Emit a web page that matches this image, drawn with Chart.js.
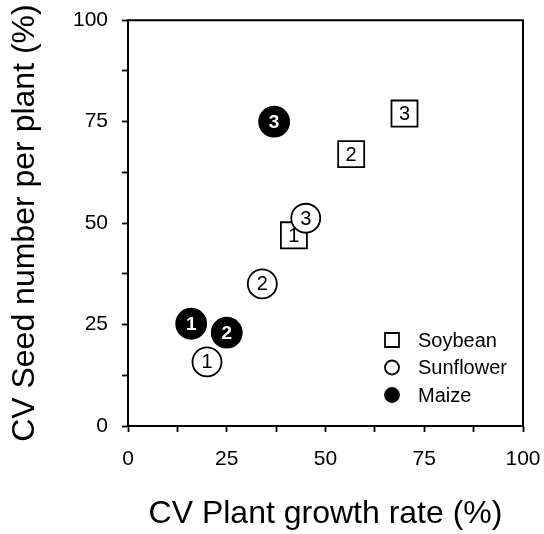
<!DOCTYPE html>
<html>
<head>
<meta charset="utf-8">
<script src="https://cdn.jsdelivr.net/npm/chart.js@4/dist/chart.umd.min.js"></script>
<style>
  html, body { margin: 0; padding: 0; background: #fff; }
  #wrap { width: 544px; height: 534px; }
</style>
</head>
<body>
<div id="wrap"><canvas id="myChart" width="544" height="534"></canvas></div>
<script>
// Values (CV in %)
const soybeanX = [42, 56.5, 70];
const soybeanY = [47, 67, 77];
const sunflowerX = [20, 34, 45];
const sunflowerY = [15.8, 35, 51.2];
const maizeX = [16, 25, 37];
const maizeY = [25.2, 23, 75];
const pointNumbers = ['1', '2', '3'];

const seriesNames = ['Soybean', 'Sunflower', 'Maize'];
const axisLabels = [0, 25, 50, 75, 100];

const FONT = "'Liberation Sans', Arial, sans-serif";

function toPoints(xs, ys) {
  return xs.map((x, i) => ({ x: x, y: ys[i] }));
}

// Top and right edges of the box
const frameBox = {
  id: 'frameBox',
  beforeDatasetsDraw(chart) {
    const { ctx, chartArea: a } = chart;
    ctx.save();
    ctx.strokeStyle = '#000';
    ctx.lineWidth = 2;
    ctx.beginPath();
    ctx.moveTo(a.left, a.top);
    ctx.lineTo(a.right, a.top);
    ctx.lineTo(a.right, a.bottom);
    ctx.stroke();
    ctx.restore();
  }
};

// Numbers written inside each marker, kept in dataset draw order
const markerNumbers = {
  id: 'markerNumbers',
  afterDatasetDraw(chart, args) {
    const ds = chart.data.datasets[args.index];
    const ctx = chart.ctx;
    ctx.save();
    ctx.font = ds.filled ? 'bold 19px ' + FONT : '20px ' + FONT;
    ctx.fillStyle = ds.filled ? '#fff' : '#000';
    ctx.textAlign = 'center';
    ctx.textBaseline = 'middle';
    args.meta.data.forEach((pt, i) => {
      ctx.fillText(ds.numbers[i], pt.x, pt.y + 1);
    });
    ctx.restore();
  }
};

// Legend inside the lower right of the plot
const boxLegend = {
  id: 'boxLegend',
  afterDraw(chart) {
    const { ctx, chartArea: a } = chart;
    const lx = a.right - 131;
    const ly = a.bottom - 86;
    const rowH = 27.5;
    ctx.save();
    ctx.font = '20px ' + FONT;
    ctx.textBaseline = 'middle';
    ctx.textAlign = 'left';
    ctx.lineWidth = 1.8;
    ctx.strokeStyle = '#000';
    chart.data.datasets.forEach((ds, i) => {
      const y = ly + i * rowH;
      ctx.fillStyle = ds.filled ? '#000' : '#fff';
      ctx.beginPath();
      if (ds.pointStyle === 'rect') {
        ctx.rect(lx - 7, y - 7, 14, 14);
      } else {
        ctx.arc(lx, y, 7, 0, Math.PI * 2);
      }
      ctx.fill();
      ctx.stroke();
      ctx.fillStyle = '#000';
      ctx.fillText(ds.label, lx + 26, y + 1);
    });
    ctx.restore();
  }
};

function axisOptions(titleText, isX) {
  return {
    type: 'linear',
    min: 0,
    max: 100,
    title: {
      display: true,
      text: titleText,
      color: '#000',
      font: { family: FONT, size: 32 },
      padding: isX ? { top: 0, bottom: 1 } : { top: 6, bottom: 0 }
    },
    grid: {
      display: true,
      drawOnChartArea: false,
      drawTicks: true,
      tickLength: 6,
      tickColor: '#000',
      tickWidth: 1.8
    },
    border: { display: true, color: '#000', width: 2 },
    ticks: {
      stepSize: 12.5,
      autoSkip: false,
      maxRotation: 0,
      color: '#000',
      padding: isX ? 15 : 14,
      font: { family: FONT, size: 21 },
      callback: (v) => axisLabels.includes(v) ? String(v) : ''
    },
    afterFit(scale) {
      // fixed box so the plot area sits where it does in the figure
      if (isX) {
        scale.height = 108;
        scale.paddingLeft = 0;
        scale.paddingRight = 0;
      } else {
        scale.width = 128;
        scale.paddingTop = 0;
        scale.paddingBottom = 0;
      }
    }
  };
}

const ctx = document.getElementById('myChart').getContext('2d');

new Chart(ctx, {
  type: 'scatter',
  data: {
    datasets: [
      {
        label: seriesNames[0],
        data: toPoints(soybeanX, soybeanY),
        numbers: pointNumbers,
        filled: false,
        order: 1,
        pointStyle: 'rect',
        pointRadius: 18.4,
        backgroundColor: '#fff',
        borderColor: '#000',
        borderWidth: 1.8
      },
      {
        label: seriesNames[1],
        data: toPoints(sunflowerX, sunflowerY),
        numbers: pointNumbers,
        filled: false,
        order: 0,
        pointStyle: 'circle',
        pointRadius: 14.5,
        backgroundColor: '#fff',
        borderColor: '#000',
        borderWidth: 1.8
      },
      {
        label: seriesNames[2],
        data: toPoints(maizeX, maizeY),
        numbers: pointNumbers,
        filled: true,
        order: 2,
        pointStyle: 'circle',
        pointRadius: 15,
        backgroundColor: '#000',
        borderColor: '#000',
        borderWidth: 1.8
      }
    ]
  },
  options: {
    responsive: false,
    animation: false,
    devicePixelRatio: 1,
    events: [],
    layout: { padding: { top: 18, right: 21, left: 0, bottom: 0 } },
    plugins: {
      legend: { display: false },
      tooltip: { enabled: false }
    },
    scales: {
      x: axisOptions('CV Plant growth rate (%)', true),
      y: axisOptions('CV Seed number per plant (%)', false)
    }
  },
  plugins: [frameBox, markerNumbers, boxLegend]
});
</script>
</body>
</html>
